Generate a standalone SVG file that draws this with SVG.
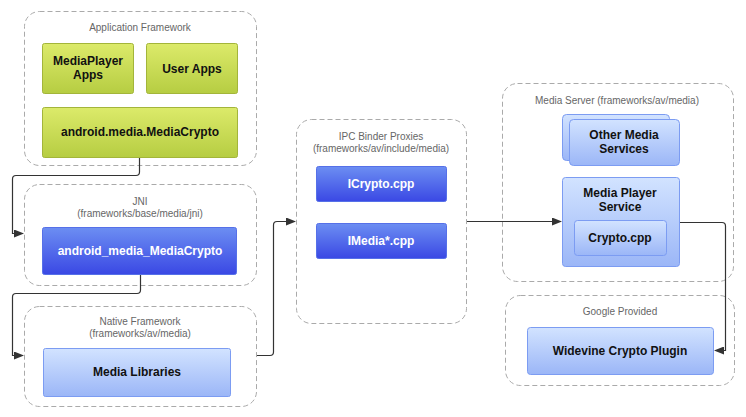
<svg xmlns="http://www.w3.org/2000/svg" width="746" height="417" viewBox="0 0 746 417">
<defs>
<linearGradient id="gGreen" x1="0" y1="0" x2="0" y2="1"><stop offset="0" stop-color="#dcea6a"/><stop offset="1" stop-color="#b6cd42"/></linearGradient>
<linearGradient id="gDark" x1="0" y1="0" x2="0" y2="1"><stop offset="0" stop-color="#6c8ef2"/><stop offset="1" stop-color="#3a48e4"/></linearGradient>
<linearGradient id="gLight" x1="0" y1="0" x2="0" y2="1"><stop offset="0" stop-color="#d2e3ff"/><stop offset="1" stop-color="#9bb6f7"/></linearGradient>
<marker id="arr" markerWidth="10" markerHeight="8" refX="9" refY="4" orient="auto" markerUnits="userSpaceOnUse"><path d="M0,0 L10,4 L0,8 Z" fill="#333"/></marker>
<style>
.cont{fill:#fff;stroke:#aaa;stroke-width:1;stroke-dasharray:5,3}
.green{fill:url(#gGreen);stroke:#a3b53a;stroke-width:1}
.dark{fill:url(#gDark);stroke:#5670e8;stroke-width:1}
.light{fill:url(#gLight);stroke:#7c9cf2;stroke-width:1}
.lbl{font-family:"Liberation Sans",Arial,sans-serif;font-size:10px;fill:#666;text-anchor:middle}
.bt{font-family:"Liberation Sans",Arial,sans-serif;font-size:12px;font-weight:bold;fill:#111;text-anchor:middle}
.wt{font-family:"Liberation Sans",Arial,sans-serif;font-size:12px;font-weight:bold;fill:#fff;text-anchor:middle}
.conn{fill:none;stroke:#333;stroke-width:1.2}
</style>
</defs>

<g id="app-framework">
<rect class="cont" x="24.5" y="11.5" width="232" height="154" rx="15"/>
<text class="lbl" x="140" y="31">Application Framework</text>
</g>
<g id="mediaplayer-apps">
<rect class="green" x="42.5" y="43.5" width="91" height="50" rx="2"/>
<text class="bt" x="88" y="65">MediaPlayer</text>
<text class="bt" x="88" y="79">Apps</text>
</g>
<g id="user-apps">
<rect class="green" x="146.5" y="43.5" width="91" height="50" rx="2"/>
<text class="bt" x="192" y="73">User Apps</text>
</g>
<g id="android-media-mediacrypto">
<rect class="green" x="42.5" y="107.5" width="195" height="50" rx="2"/>
<text class="bt" x="140" y="136">android.media.MediaCrypto</text>
</g>

<g id="jni">
<rect class="cont" x="24.5" y="184.5" width="232" height="101" rx="15"/>
<text class="lbl" x="140" y="205">JNI</text>
<text class="lbl" x="140" y="217">(frameworks/base/media/jni)</text>
</g>
<g id="android-media-mediacrypto-jni">
<rect class="dark" x="42.5" y="227.5" width="194" height="47" rx="2"/>
<text class="wt" x="140" y="255">android_media_MediaCrypto</text>
</g>

<g id="native-framework">
<rect class="cont" x="24.5" y="306.5" width="232" height="100" rx="15"/>
<text class="lbl" x="140" y="325">Native Framework</text>
<text class="lbl" x="140" y="337">(frameworks/av/media)</text>
</g>
<g id="media-libraries">
<rect class="light" x="43.5" y="348.5" width="187" height="48" rx="2"/>
<text class="bt" x="137" y="376">Media Libraries</text>
</g>

<g id="ipc-binder-proxies">
<rect class="cont" x="296.5" y="119.5" width="170" height="204" rx="15"/>
<text class="lbl" x="381" y="140">IPC Binder Proxies</text>
<text class="lbl" x="381" y="152">(frameworks/av/include/media)</text>
</g>
<g id="icrypto">
<rect class="dark" x="316.5" y="166.5" width="130" height="35" rx="2"/>
<text class="wt" x="381" y="188">ICrypto.cpp</text>
</g>
<g id="imedia">
<rect class="dark" x="316.5" y="223.5" width="130" height="35" rx="2"/>
<text class="wt" x="381" y="245">IMedia*.cpp</text>
</g>

<g id="media-server">
<rect class="cont" x="502.5" y="83.5" width="231" height="198" rx="15"/>
<text class="lbl" x="617" y="104">Media Server (frameworks/av/media)</text>
</g>
<g id="other-media-services">
<rect class="light" x="562.5" y="114.5" width="107" height="46" rx="4"/>
<rect class="light" x="569.5" y="119.5" width="110" height="46" rx="4"/>
<text class="bt" x="624" y="139">Other Media</text>
<text class="bt" x="624" y="153">Services</text>
</g>
<g id="media-player-service">
<rect class="light" x="562.5" y="177.5" width="117" height="89" rx="3"/>
<text class="bt" x="620" y="197">Media Player</text>
<text class="bt" x="620" y="211">Service</text>
</g>
<g id="crypto-cpp">
<rect class="light" x="574.5" y="220.5" width="92" height="35" rx="3"/>
<text class="bt" x="620" y="242">Crypto.cpp</text>
</g>

<g id="google-provided">
<rect class="cont" x="505.5" y="295.5" width="229" height="90" rx="15"/>
<text class="lbl" x="620" y="315">Google Provided</text>
</g>
<g id="widevine">
<rect class="light" x="527.5" y="327.5" width="186" height="47" rx="3"/>
<text class="bt" x="620" y="355">Widevine Crypto Plugin</text>
</g>

<g id="connectors">
<path class="conn" d="M139.5,158 V172 Q139.5,175.5 136,175.5 H16 Q12.5,175.5 12.5,179 V233.5 H23" marker-end="url(#arr)"/>
<path class="conn" d="M140.5,275 V290 Q140.5,293.5 137,293.5 H16 Q12.5,293.5 12.5,297 V355.5 H23" marker-end="url(#arr)"/>
<path class="conn" d="M257,355.5 H270 Q273.5,355.5 273.5,352 V225 Q273.5,221.5 277,221.5 H295" marker-end="url(#arr)"/>
<path class="conn" d="M467,221.5 H561" marker-end="url(#arr)"/>
<path class="conn" d="M680,222.5 H722 Q725.5,222.5 725.5,226 V350.5 H715" marker-end="url(#arr)"/>
</g>
</svg>
